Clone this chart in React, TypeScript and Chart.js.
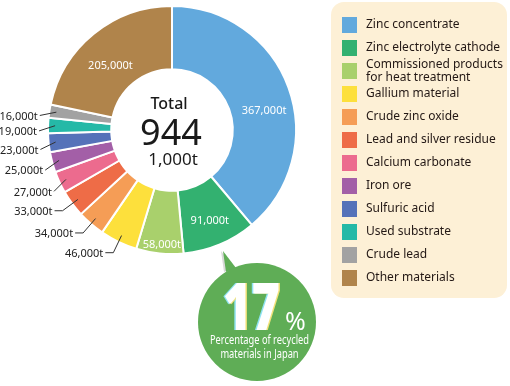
import React, { useEffect, useRef } from 'react';
import { Chart, registerables } from 'chart.js';

Chart.register(...registerables);

const categories = [
  'Zinc concentrate',
  'Zinc electrolyte cathode',
  'Commissioned products\nfor heat treatment',
  'Gallium material',
  'Crude zinc oxide',
  'Lead and silver residue',
  'Calcium carbonate',
  'Iron ore',
  'Sulfuric acid',
  'Used substrate',
  'Crude lead',
  'Other materials',
];
const valuesKt = [367, 91, 58, 46, 34, 33, 27, 25, 23, 19, 16, 205];
const valueLabels = [
  '367,000t', '91,000t', '58,000t', '46,000t', '34,000t', '33,000t',
  '27,000t', '25,000t', '23,000t', '19,000t', '16,000t', '205,000t',
];
const colors = [
  '#62A9DD', '#33B170', '#A9D06C', '#FDE03C', '#F59D56', '#EE6C47',
  '#EC6B8E', '#A35FA7', '#5572B9', '#25B9A7', '#A2A2A2', '#B0844B',
];
const totalTitle = 'Total';
const totalValue = '944';
const totalUnit = '1,000t';
const recycledShare = '17';
const recycledCaption = ['Percentage of recycled', 'materials in Japan'];

const FONT = '"Noto Sans", sans-serif';

const decorPlugin = {
  id: 'decor',
  afterDraw(chart: any) {
    const ctx = chart.ctx as CanvasRenderingContext2D;
    const meta = chart.getDatasetMeta(0);
    const arcs = meta.data;
    if (!arcs.length) return;
    const a0 = arcs[0].getProps(['x', 'y', 'outerRadius', 'innerRadius'], true);
    const cx = a0.x, cy = a0.y;

    // ----- inside labels
    const inside: Record<number, [number, number]> = {
      0: [0.56, 94], 1: [0.5, 98], 2: [0.47, 115], 11: [0.44, 89],
    };
    ctx.save();
    ctx.font = `11px ${FONT}`;
    ctx.fillStyle = '#ffffff';
    ctx.textAlign = 'center';
    ctx.textBaseline = 'middle';
    Object.keys(inside).forEach((k) => {
      const i = Number(k);
      const p = arcs[i].getProps(['startAngle', 'endAngle'], true);
      const [f, r] = inside[i];
      const ang = p.startAngle + (p.endAngle - p.startAngle) * f;
      ctx.fillText(valueLabels[i], cx + r * Math.cos(ang), cy + r * Math.sin(ang));
    });
    ctx.restore();

    // ----- outside labels with leader lines
    ctx.save();
    ctx.font = `11px ${FONT}`;
    ctx.fillStyle = '#222';
    ctx.strokeStyle = '#333';
    ctx.lineWidth = 1;
    ctx.textAlign = 'right';
    ctx.textBaseline = 'middle';
    for (let i = 3; i <= 10; i++) {
      const p = arcs[i].getProps(['startAngle', 'endAngle', 'outerRadius'], true);
      const mid = (p.startAngle + p.endAngle) / 2;
      const elbow = i <= 5;
      const r1 = p.outerRadius - 7;
      const x1 = cx + r1 * Math.cos(mid), y1 = cy + r1 * Math.sin(mid);
      let tx: number, ty: number;
      ctx.beginPath();
      ctx.moveTo(x1, y1);
      if (elbow) {
        const r2 = p.outerRadius + 12;
        const x2 = cx + r2 * Math.cos(mid), y2 = cy + r2 * Math.sin(mid);
        ctx.lineTo(x2, y2);
        ctx.lineTo(x2 - 8, y2);
        tx = x2 - 10; ty = y2;
      } else {
        const r2 = p.outerRadius + 9;
        const a2 = mid - (2.5 * Math.PI) / 180;
        const x2 = cx + r2 * Math.cos(a2), y2 = cy + r2 * Math.sin(a2);
        ctx.lineTo(x2, y2);
        tx = x2 - 2; ty = y2;
      }
      ctx.stroke();
      ctx.fillText(valueLabels[i], tx, ty + 1);
    }
    ctx.restore();

    // ----- center text
    ctx.save();
    ctx.fillStyle = '#1a1a1a';
    ctx.textAlign = 'center';
    ctx.textBaseline = 'alphabetic';
    ctx.font = `500 16px ${FONT}`;
    ctx.fillText(totalTitle, cx - 3, cy - 21);
    ctx.font = `36px ${FONT}`;
    ctx.fillText(totalValue, cx - 1, cy + 15);
    ctx.font = `17px ${FONT}`;
    ctx.fillText(totalUnit, cx + 1, cy + 35);
    ctx.restore();

    // ----- legend
    ctx.save();
    const lx = 331, ly = 2, lw = 176, lh = 296;
    ctx.fillStyle = '#FDF0D6';
    ctx.beginPath();
    (ctx as any).roundRect(lx, ly, lw, lh, 13);
    ctx.fill();
    ctx.textAlign = 'left';
    ctx.textBaseline = 'middle';
    ctx.font = `12px ${FONT}`;
    categories.forEach((c, i) => {
      const rowY = 25 + i * 23;
      ctx.fillStyle = colors[i];
      ctx.fillRect(342, rowY - 8, 15, 16);
      ctx.fillStyle = '#231815';
      const lines = c.split('\n');
      lines.forEach((ln, j) => {
        const y = lines.length === 1 ? rowY : rowY - 6.5 + j * 13.5;
        const w = ctx.measureText(ln).width;
        const maxW = 137;
        if (w > maxW) {
          ctx.save();
          ctx.translate(366, y);
          ctx.scale(maxW / w, 1);
          ctx.fillText(ln, 0, 0);
          ctx.restore();
        } else {
          ctx.fillText(ln, 366, y);
        }
      });
    });
    ctx.restore();

    // ----- green callout
    ctx.save();
    const gx = 257, gy = 322, gr = 59;
    ctx.fillStyle = '#D8D8D8';
    ctx.beginPath();
    ctx.moveTo(221, 251);
    ctx.lineTo(224, 272);
    ctx.lineTo(234, 268);
    ctx.closePath();
    ctx.fill();
    ctx.fillStyle = '#5FAD56';
    ctx.beginPath();
    ctx.moveTo(223, 251);
    ctx.lineTo(226, 272);
    ctx.lineTo(236, 268);
    ctx.closePath();
    ctx.fill();
    ctx.beginPath();
    ctx.arc(gx, gy, gr, 0, Math.PI * 2);
    ctx.fill();

    ctx.textAlign = 'left';
    ctx.textBaseline = 'alphabetic';
    ctx.font = `900 66px ${FONT}`;
    const nw = ctx.measureText(recycledShare).width;
    const sx = 57 / nw;
    const drawBig = (dx: number, color: string) => {
      ctx.save();
      ctx.translate(223 + dx, 330);
      ctx.scale(sx, 1);
      ctx.fillStyle = color;
      ctx.fillText(recycledShare, 0, 0);
      ctx.restore();
    };
    drawBig(-1.5, '#8FE3F2');
    drawBig(1.5, '#F3E27A');
    drawBig(0, '#ffffff');
    ctx.fillStyle = '#ffffff';
    ctx.font = `25px ${FONT}`;
    ctx.fillText('%', 285, 330);

    ctx.font = `12.5px ${FONT}`;
    ctx.textAlign = 'center';
    ctx.textBaseline = 'middle';
    const cw = ctx.measureText(recycledCaption[0]).width;
    const cs = 99 / cw;
    recycledCaption.forEach((ln, j) => {
      ctx.save();
      ctx.translate(259.5, 340 + j * 14.5);
      ctx.scale(cs, 1);
      ctx.fillText(ln, 0, 0);
      ctx.restore();
    });
    ctx.restore();
  },
};

export default function App() {
  const ref = useRef<HTMLCanvasElement>(null);
  useEffect(() => {
    document.body.style.margin = '0';
    const canvas = ref.current;
    if (!canvas) return;
    const chart = new Chart(canvas, {
      type: 'doughnut',
      data: {
        labels: categories,
        datasets: [
          {
            data: valuesKt,
            backgroundColor: colors,
            borderColor: '#ffffff',
            borderWidth: 2,
            hoverOffset: 0,
            hoverBorderWidth: 2,
          },
        ],
      },
      options: {
        responsive: false,
        animation: false,
        cutout: '49%',
        layout: { padding: { left: 47, top: 5, right: 213, bottom: 131 } },
        plugins: {
          legend: { display: false },
          tooltip: { enabled: false },
        },
        events: [],
      },
      plugins: [decorPlugin],
    });
    return () => chart.destroy();
  }, []);
  return (
    <div style={{ position: 'absolute', left: 0, top: 0, width: 510, height: 386, background: '#fff' }}>
      <canvas ref={ref} width={510} height={386} style={{ display: 'block', width: 510, height: 386 }} />
    </div>
  );
}
